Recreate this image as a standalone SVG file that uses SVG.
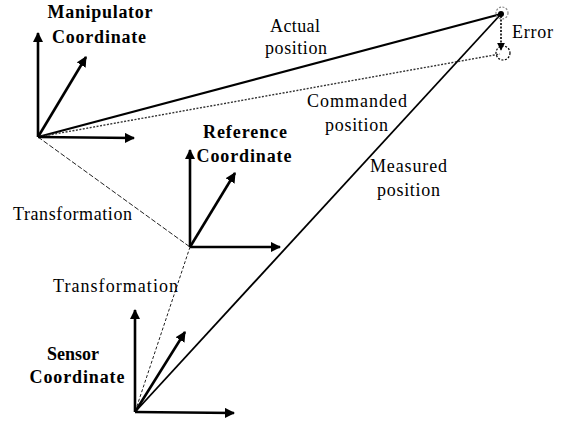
<svg xmlns="http://www.w3.org/2000/svg" width="561" height="422" viewBox="0 0 561 422">
<defs>
<marker id="ah" viewBox="0 0 10 10" refX="9" refY="5" markerWidth="4" markerHeight="4" orient="auto" markerUnits="strokeWidth">
<path d="M0,0 L10,5 L0,10 z" fill="#000"/>
</marker>
<marker id="ahs" viewBox="0 0 10 10" refX="9" refY="5" markerWidth="5" markerHeight="5" orient="auto" markerUnits="strokeWidth">
<path d="M0,0 L10,5 L0,10 z" fill="#000"/>
</marker>
</defs>
<style>
.ax{stroke:#000;stroke-width:2.6;fill:none;marker-end:url(#ah)}
text{font-family:'Liberation Serif','Times New Roman',serif;font-size:18px;fill:#000}
.b{font-weight:bold}
</style>
<rect width="561" height="422" fill="#fff"/>
<g id="connectors">
<line x1="38" y1="137" x2="501" y2="14" stroke="#000" stroke-width="2.2"/>
<line x1="38" y1="137" x2="500" y2="54" stroke="#333" stroke-width="1.4" stroke-dasharray="2,1.5"/>
<line x1="135" y1="412" x2="501" y2="14" stroke="#000" stroke-width="1.8"/>
<line x1="38" y1="137" x2="190" y2="247" stroke="#222" stroke-width="1" stroke-dasharray="5,2"/>
<line x1="190" y1="247" x2="135" y2="412" stroke="#222" stroke-width="1" stroke-dasharray="3,2"/>
<line x1="501" y1="16" x2="501" y2="50" stroke="#000" stroke-width="1.6" stroke-dasharray="2,1.5" marker-end="url(#ahs)"/>
<circle cx="502" cy="13" r="6" fill="none" stroke="#888" stroke-width="1.2" stroke-dasharray="2,1.5"/>
<circle cx="501" cy="14" r="3" fill="#000"/>
<circle cx="503" cy="53" r="7" fill="none" stroke="#000" stroke-width="1.2" stroke-dasharray="2,1.5"/>
</g>
<g id="manipulator">
<line class="ax" x1="38" y1="137" x2="38" y2="33"/>
<line class="ax" x1="38" y1="137" x2="86" y2="57"/>
<line class="ax" x1="38" y1="137" x2="134" y2="138"/>
<text class="b" x="100" y="18" text-anchor="middle" textLength="105">Manipulator</text>
<text class="b" x="99" y="43" text-anchor="middle" textLength="94">Coordinate</text>
</g>
<g id="reference">
<line class="ax" x1="190" y1="247" x2="190" y2="150"/>
<line class="ax" x1="190" y1="247" x2="235" y2="173"/>
<line class="ax" x1="190" y1="247" x2="280" y2="247"/>
<text class="b" x="245" y="138" text-anchor="middle" textLength="84">Reference</text>
<text class="b" x="244" y="162" text-anchor="middle" textLength="95">Coordinate</text>
</g>
<g id="sensor">
<line class="ax" x1="135" y1="412" x2="135" y2="310"/>
<line class="ax" x1="135" y1="412" x2="185" y2="332"/>
<line class="ax" x1="135" y1="412" x2="234" y2="413"/>
<text class="b" x="73" y="360" text-anchor="middle">Sensor</text>
<text class="b" x="77" y="383" text-anchor="middle" textLength="95">Coordinate</text>
</g>
<g id="labels">
<text x="270" y="32" textLength="50">Actual</text>
<text x="265" y="54" textLength="62">position</text>
<text x="307" y="107" textLength="100">Commanded</text>
<text x="325" y="131" textLength="63">position</text>
<text x="370" y="172" textLength="77">Measured</text>
<text x="377" y="196" textLength="63">position</text>
<text x="512" y="38" textLength="41">Error</text>
<text x="13" y="220" textLength="119">Transformation</text>
<text x="53" y="292" textLength="125">Transformation</text>
</g>
</svg>
